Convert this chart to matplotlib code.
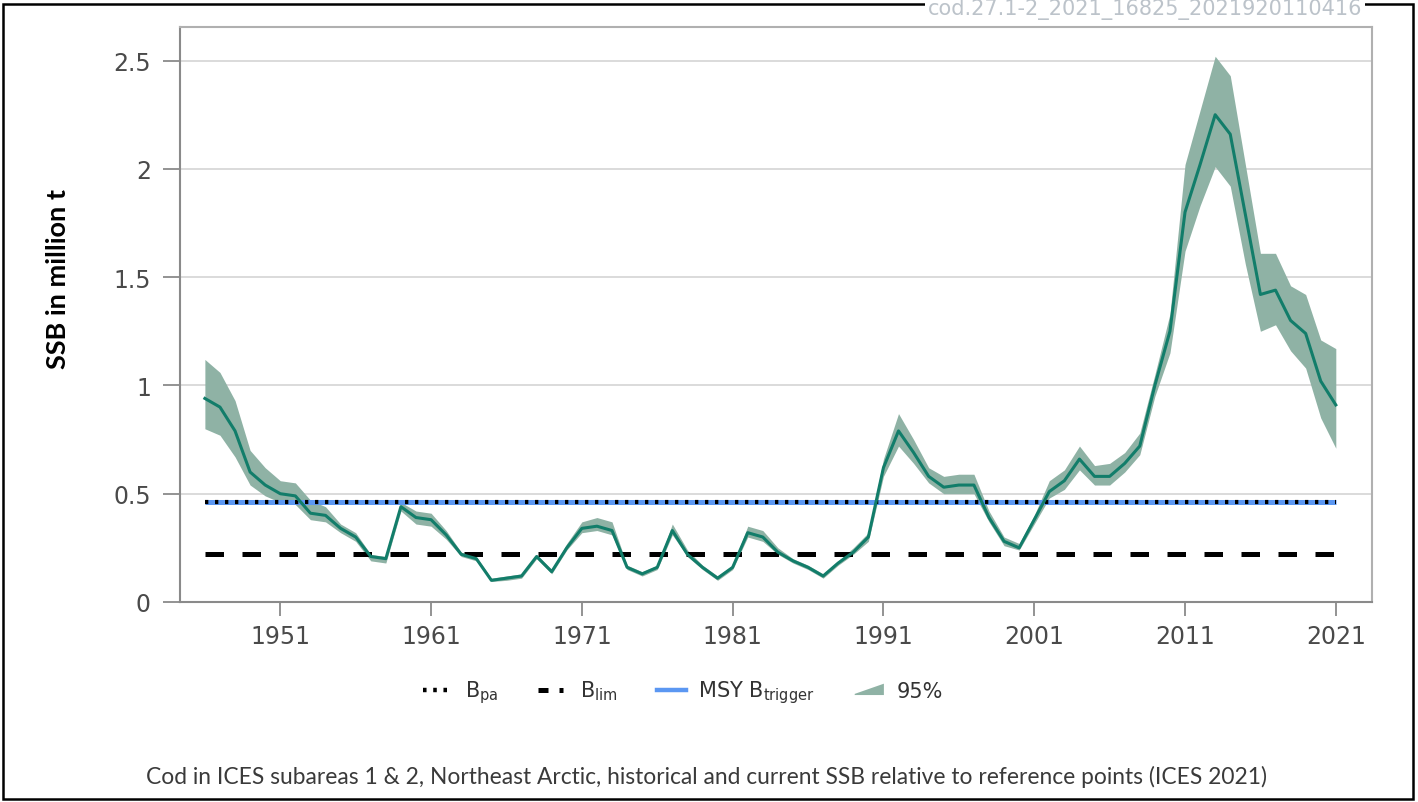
import numpy as np
import matplotlib
matplotlib.use('Agg')
import matplotlib.pyplot as plt
from matplotlib.patches import Polygon, Rectangle
from matplotlib.legend_handler import HandlerBase
from matplotlib.lines import Line2D

years = list(range(1946, 2022))
ssb = [0.94, 0.90, 0.79, 0.60, 0.54, 0.50, 0.49, 0.41, 0.40, 0.34,
       0.30, 0.21, 0.20, 0.44, 0.39, 0.38, 0.31, 0.22, 0.20, 0.10,
       0.11, 0.12, 0.21, 0.14, 0.25, 0.34, 0.35, 0.33, 0.16, 0.13,
       0.16, 0.33, 0.22, 0.16, 0.11, 0.16, 0.32, 0.30, 0.23, 0.19,
       0.16, 0.12, 0.18, 0.23, 0.30, 0.62, 0.79, 0.69, 0.58, 0.53,
       0.54, 0.54, 0.39, 0.28, 0.25, 0.38, 0.51, 0.56, 0.66, 0.58,
       0.58, 0.64, 0.72, 1.00, 1.25, 1.80, 2.02, 2.25, 2.16, 1.79,
       1.42, 1.44, 1.30, 1.24, 1.02, 0.91]
upper = [1.12, 1.06, 0.93, 0.70, 0.62, 0.56, 0.55, 0.47, 0.44, 0.36,
         0.32, 0.22, 0.21, 0.46, 0.42, 0.41, 0.33, 0.23, 0.21, 0.11,
         0.12, 0.13, 0.22, 0.15, 0.27, 0.37, 0.39, 0.37, 0.17, 0.14,
         0.17, 0.36, 0.24, 0.17, 0.12, 0.17, 0.35, 0.33, 0.25, 0.20,
         0.17, 0.13, 0.19, 0.25, 0.32, 0.66, 0.87, 0.75, 0.62, 0.58,
         0.59, 0.59, 0.42, 0.30, 0.27, 0.40, 0.56, 0.61, 0.72, 0.63,
         0.64, 0.69, 0.78, 1.05, 1.33, 2.02, 2.27, 2.52, 2.43, 2.02,
         1.61, 1.61, 1.46, 1.42, 1.21, 1.17]
lower = [0.80, 0.77, 0.67, 0.54, 0.49, 0.46, 0.45, 0.38, 0.37, 0.32,
         0.28, 0.19, 0.18, 0.42, 0.36, 0.35, 0.29, 0.21, 0.19, 0.095,
         0.10, 0.11, 0.20, 0.13, 0.24, 0.32, 0.33, 0.31, 0.15, 0.12,
         0.15, 0.31, 0.21, 0.15, 0.10, 0.15, 0.30, 0.28, 0.22, 0.18,
         0.15, 0.11, 0.17, 0.22, 0.28, 0.58, 0.72, 0.64, 0.55, 0.50,
         0.50, 0.50, 0.37, 0.26, 0.24, 0.36, 0.48, 0.52, 0.61, 0.54,
         0.54, 0.60, 0.68, 0.95, 1.15, 1.62, 1.83, 2.01, 1.92, 1.56,
         1.25, 1.28, 1.16, 1.08, 0.85, 0.71]

b_pa = 0.46
b_lim = 0.22
msy_btrigger = 0.46

xtick_years = [1951, 1961, 1971, 1981, 1991, 2001, 2011, 2021]
ytick_vals = [0, 0.5, 1, 1.5, 2, 2.5]
ytick_labels = ['0', '0.5', '1', '1.5', '2', '2.5']

line_col = '#127d6a'
band_col = '#8fb2a5'
blue_col = '#5b97f2'
spine_col = '#8a8a8a'
tick_txt = '#4a4a4a'


class WedgeHandler(HandlerBase):
    def create_artists(self, legend, orig_handle, xdescent, ydescent, width, height, fontsize, trans):
        x0, x1 = -xdescent, width - xdescent
        yb = -ydescent + 0.12 * height
        yt = -ydescent + 0.9 * height
        p = Polygon([[x0, yb], [x1, yb], [x1, yt], [x0, yb + 0.08 * height]], closed=True,
                    fc=band_col, ec='none', transform=trans)
        return [p]


fig = plt.figure(figsize=(14.18, 8.03), dpi=100)
ax = fig.add_axes([180 / 1418, 1 - 603 / 803, (1372 - 180) / 1418, (603 - 28) / 803])

ax.fill_between(years, lower, upper, color=band_col, lw=0, zorder=2)
ax.plot(years, ssb, color=line_col, lw=2.2, zorder=4)

ax.hlines(msy_btrigger, years[0], years[-1], color=blue_col, lw=3.6, zorder=3)
ax.hlines(b_pa, years[0], years[-1], color='black', lw=3.0, linestyles=[(0, (0.8, 1.6))], zorder=3)
ax.hlines(b_lim, years[0], years[-1], color='black', lw=3.6, linestyles=[(0, (3.7, 3.7))], zorder=3)

ax.set_xlim(1944.35, 2023.4)
ax.set_ylim(0, 2.655)
ax.set_xticks(xtick_years)
ax.set_xticklabels([str(y) for y in xtick_years], fontsize=17, color=tick_txt, family='DejaVu Sans')
ax.set_yticks(ytick_vals)
ax.set_yticklabels(ytick_labels, fontsize=17, color=tick_txt, family='DejaVu Sans')
ax.tick_params(axis='y', length=12, width=1.3, color=spine_col, pad=9)
ax.tick_params(axis='x', length=10, width=1.3, color=spine_col, pad=6)
ax.grid(axis='y', color='#d8d8d8', lw=1.3, zorder=0)
ax.set_axisbelow(True)
for s in ax.spines.values():
    s.set_color(spine_col)
    s.set_linewidth(1.5)
ax.spines['top'].set_color('#b0b0b0')
ax.spines['right'].set_color('#b0b0b0')

ax.set_ylabel('SSB in million t', fontsize=19.5, fontweight='bold', family='Lato')
ax.yaxis.set_label_coords((70 - 180) / 1192, (603 - 279) / 575)

h_pa = Line2D([], [], color='black', lw=3.2, linestyle=(0, (0.8, 1.5)))
h_lim = Line2D([], [], color='black', lw=3.6, linestyle=(0, (2.0, 2.2, 0.8, 2.2)))
h_msy = Line2D([], [], color=blue_col, lw=3.2)
h_ci = Polygon([[0, 0]], closed=True)
fig.legend([h_pa, h_lim, h_msy, h_ci],
           [r'B$_{\mathregular{pa}}$', r'B$_{\mathregular{lim}}$',
            r'MSY B$_{\mathregular{trigger}}$', '95%'],
           handler_map={Polygon: WedgeHandler()},
           loc='center', bbox_to_anchor=(683 / 1418, 1 - 693 / 803), ncol=4, frameon=False,
           prop={'family': 'DejaVu Sans', 'size': 15}, handlelength=1.4, handletextpad=0.6,
           columnspacing=1.9, labelcolor='#333333')

fig.text(707 / 1418, 1 - 777 / 803,
         'Cod in ICES subareas 1 & 2, Northeast Arctic, historical and current SSB relative to reference points (ICES 2021)',
         ha='center', va='center', fontsize=16.4, family='Lato', color='#3a3a3a')

fig.patches.append(Rectangle((3 / 1418, 3 / 803), 1410 / 1418, 795 / 803, transform=fig.transFigure,
                             fill=False, ec='black', lw=1.8, zorder=0))
fig.text(1362 / 1418, 1 - 9 / 803, 'cod.27.1-2_2021_16825_2021920110416', ha='right', va='center',
         fontsize=15, family='DejaVu Sans', color='#bcc3ca',
         bbox=dict(fc='white', ec='none', pad=2))

fig.savefig('out.png', dpi=100)
